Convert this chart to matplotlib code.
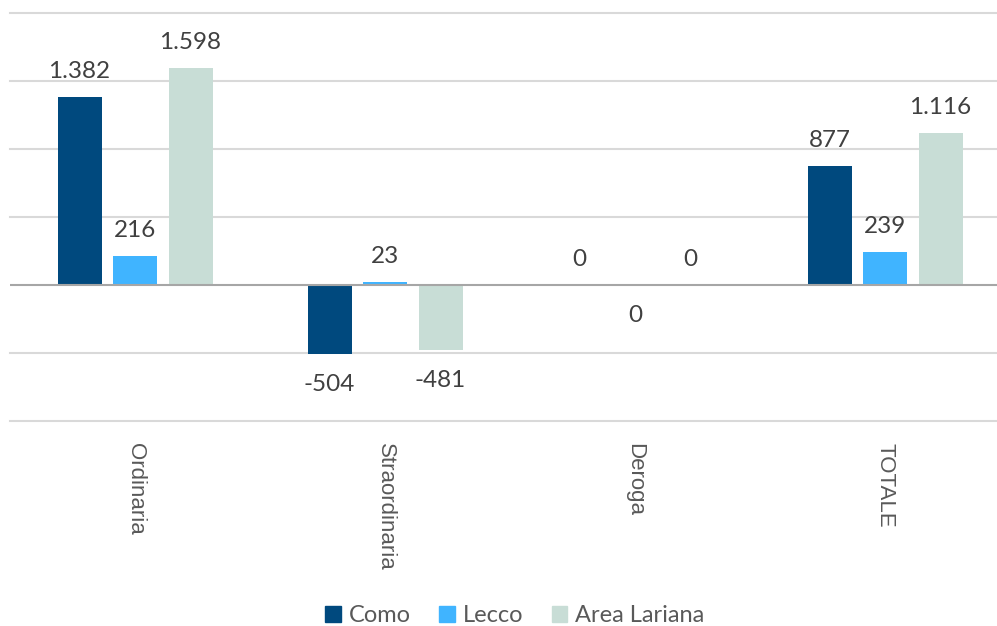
import numpy as np
import matplotlib
matplotlib.use("Agg")
import matplotlib.pyplot as plt
from matplotlib.patches import Patch

# data
categories = ["Ordinaria", "Straordinaria", "Deroga", "TOTALE"]
series = ["Como", "Lecco", "Area Lariana"]
como = [1382, -504, 0, 877]
lecco = [216, 23, -0.0, 239]
area = [1598, -481, 0, 1116]
values = [como, lecco, area]
colors = ["#00497e", "#40b4ff", "#c8ddd6"]

W, H = 997, 626
fig = plt.figure(figsize=(W / 100, H / 100), dpi=100)
ax = fig.add_axes([10 / W, (H - 421) / H, 987 / W, 408 / H])

ax.set_xlim(-0.5, -0.5 + 987 / 250)
ax.set_ylim(-1000, 2000)

# gridlines
for g in np.arange(-1000, 2001, 500):
    if g == 0:
        continue
    ax.axhline(g, color="#d9d9d9", lw=1.5, zorder=0, clip_on=False)

x = np.arange(len(categories))
bar_w = 0.176
step = 0.222

for i, (name, vals, c) in enumerate(zip(series, values, colors)):
    xs = x + (i - 1) * step
    ax.bar(xs, vals, width=bar_w, color=c, zorder=2, label=name)
    for xi, v in zip(xs, vals):
        lab = f"{abs(v):,.0f}".replace(",", ".")
        if v < 0 and round(v) != 0:
            lab = "-" + lab
        neg = np.signbit(v)
        ax.annotate(lab, (xi, v), xytext=(0, -20 if neg else 15),
                    textcoords="offset pixels",
                    ha="center", va="top" if neg else "bottom",
                    fontsize=17.5, color="#404040", family="Lato", zorder=3)

ax.axhline(0, color="#a6a6a6", lw=1.5, zorder=3)

ax.set_xticks(x)
ax.set_xticklabels(categories, rotation=270, ha="center", va="top",
                   fontsize=16, color="#595959", family="Liberation Sans")
ax.tick_params(axis="x", length=0, pad=16)
ax.set_yticks([])
for s in ax.spines.values():
    s.set_visible(False)

handles = [Patch(color=c, label=n) for n, c in zip(series, colors)]
fig.legend(handles=handles, loc="center", bbox_to_anchor=(515 / W, 1 - 616 / H),
           ncol=3, frameon=False, handlelength=0.65, handleheight=0.65,
           handletextpad=0.35, columnspacing=1.2, prop={"family": "Lato", "size": 17},
           labelcolor="#595959")

fig.savefig("out.png", dpi=100)
